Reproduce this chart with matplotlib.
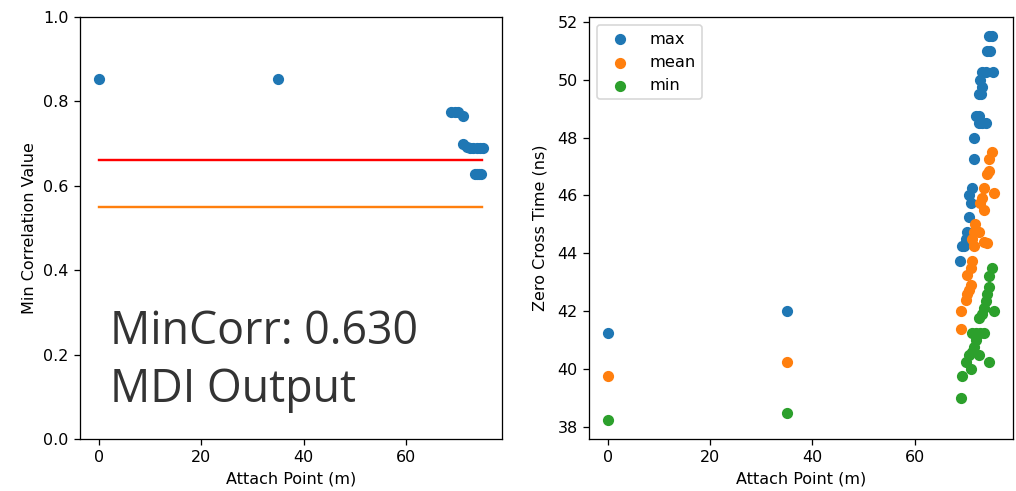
import matplotlib
matplotlib.use("Agg")
import matplotlib.pyplot as plt

# ---- Left panel data ----
corr_x = [0, 35, 68.9, 69.6, 70.2, 71.2, 71.3, 72.0, 72.6, 73.2, 73.9, 74.5, 75.1, 73.5, 74.0, 74.4, 74.8]
corr_y = [0.853, 0.853, 0.776, 0.776, 0.776, 0.766, 0.700, 0.693, 0.690, 0.690, 0.690, 0.690, 0.690, 0.628, 0.628, 0.628, 0.628]
threshold_red = 0.66
threshold_orange = 0.55
threshold_span = [0, 75]

# ---- Right panel data ----
max_x = [0, 35, 68.9, 69.3, 69.7, 70.0, 70.3, 70.6, 71.0, 70.6, 71.2, 71.6, 71.6, 72.0, 72.6,
         72.6, 73.2, 73.9, 72.6, 73.0, 73.2, 72.9, 73.2, 73.9, 75.4, 74.2, 74.8, 74.5, 75.2]
max_y = [41.25, 42.0, 43.75, 44.25, 44.25, 44.5, 44.75, 45.25, 45.75, 46.0, 46.25, 47.25, 48.0, 48.75, 48.75,
         48.5, 48.5, 48.5, 49.5, 49.5, 49.75, 50.0, 50.25, 50.25, 50.25, 51.0, 51.0, 51.5, 51.5]

mean_x = [0, 35, 69.0, 69.0, 70.0, 70.3, 70.6, 71.0, 70.3, 71.0, 71.3, 71.6, 71.3, 73.6, 74.2,
          72.6, 71.6, 71.9, 73.6, 72.9, 73.2, 73.6, 75.5, 74.2, 74.5, 74.5, 75.2]
mean_y = [39.75, 40.25, 41.4, 42.0, 42.4, 42.6, 42.75, 42.9, 43.25, 43.5, 43.75, 44.25, 44.5, 44.4, 44.35,
          44.75, 44.75, 45.0, 45.5, 45.75, 45.9, 46.25, 46.1, 46.75, 46.85, 47.25, 47.5]

min_x = [0, 35, 69.0, 69.3, 70.0, 71.0, 70.6, 71.3, 72.6, 71.6, 74.5, 72.0, 71.3, 72.0, 72.9,
         73.6, 72.6, 73.2, 75.5, 73.6, 73.9, 74.2, 74.5, 74.5, 75.2]
min_y = [38.25, 38.5, 39.0, 39.75, 40.25, 40.0, 40.5, 40.6, 40.5, 40.75, 40.25, 41.0, 41.25, 41.25, 41.25,
         41.25, 41.75, 41.9, 42.0, 42.1, 42.35, 42.6, 42.85, 43.2, 43.5]

series_labels = ["max", "mean", "min"]

DPI = 115
fig = plt.figure(figsize=(1016 / DPI, 491 / DPI), dpi=DPI)

ax1 = fig.add_axes([80 / 1016, 52 / 491, 422 / 1016, 422 / 491])
ax1.scatter(corr_x, corr_y, color="tab:blue")
ax1.plot(threshold_span, [threshold_red] * 2, color="red", lw=1.5)
ax1.plot(threshold_span, [threshold_orange] * 2, color="tab:orange", lw=1.5)
ax1.set_ylim(0, 1.0)
ax1.set_xticks([0, 20, 40, 60])
ax1.set_yticks([0.0, 0.2, 0.4, 0.6, 0.8, 1.0])
ax1.set_xlabel("Attach Point (m)")
ax1.set_ylabel("Min Correlation Value")
ax1.text(0.071, 0.225, "MinCorr: 0.630", transform=ax1.transAxes, fontsize=28,
         family="Open Sans", color="#333333", va="baseline", ha="left")
ax1.text(0.071, 0.088, "MDI Output", transform=ax1.transAxes, fontsize=28,
         family="Open Sans", color="#333333", va="baseline", ha="left")

ax2 = fig.add_axes([589 / 1016, 52 / 491, 424 / 1016, 422 / 491])
ax2.scatter(max_x, max_y, color="tab:blue", label=series_labels[0])
ax2.scatter(mean_x, mean_y, color="tab:orange", label=series_labels[1])
ax2.scatter(min_x, min_y, color="tab:green", label=series_labels[2])
ax2.set_xticks([0, 20, 40, 60])
ax2.set_yticks(list(range(38, 53, 2)))
ax2.set_xlabel("Attach Point (m)")
ax2.set_ylabel("Zero Cross Time (ns)", labelpad=6)
ax2.legend(loc="upper left", fontsize=10.2)

fig.savefig("out.png", dpi=DPI)
